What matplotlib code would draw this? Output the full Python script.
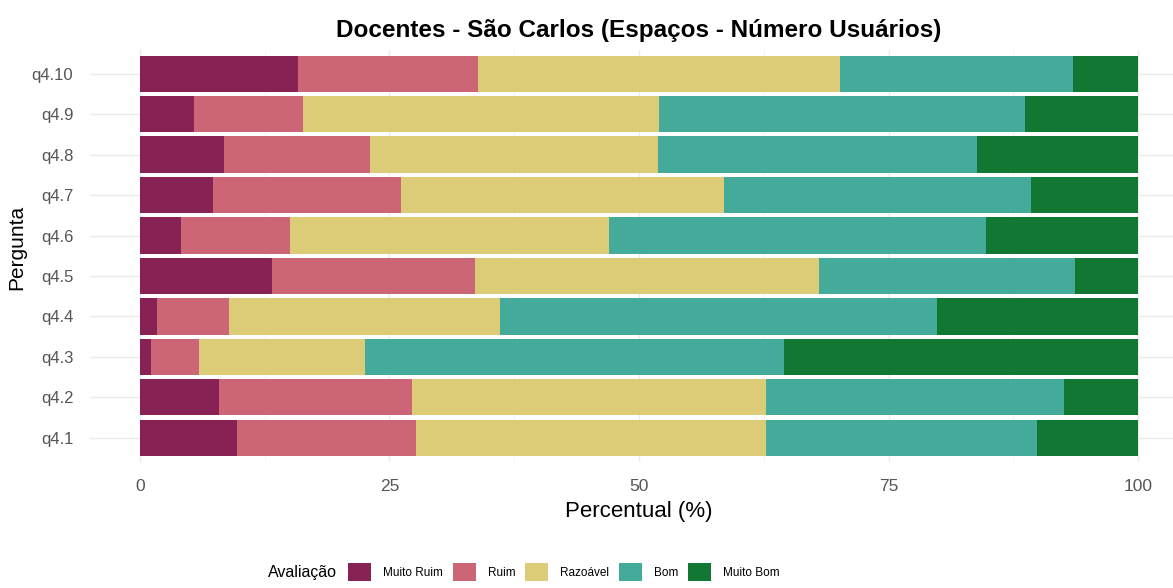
import matplotlib
matplotlib.use('Agg')
import matplotlib.pyplot as plt
from matplotlib.patches import Patch
import numpy as np

plt.rcParams['font.family'] = ['Liberation Sans', 'DejaVu Sans']

perguntas = ['q4.1', 'q4.2', 'q4.3', 'q4.4', 'q4.5', 'q4.6', 'q4.7', 'q4.8', 'q4.9', 'q4.10']
avaliacoes = ['Muito Ruim', 'Ruim', 'Razoável', 'Bom', 'Muito Bom']
cores = ['#882255', '#CC6677', '#DDCC77', '#44AA99', '#117733']

# percentuais por avaliacao (q4.1 ... q4.10)
muito_ruim = [9.7, 7.9, 1.1, 1.7, 13.2, 4.1, 7.3, 8.4, 5.4, 15.8]
ruim = [18.0, 19.4, 4.8, 7.2, 20.4, 10.9, 18.9, 14.7, 10.9, 18.1]
razoavel = [35.0, 35.4, 16.6, 27.2, 34.4, 32.0, 32.3, 28.8, 35.7, 36.2]
bom = [27.2, 29.9, 42.0, 43.8, 25.7, 37.8, 30.8, 32.0, 36.7, 23.4]
muito_bom = [10.1, 7.4, 35.5, 20.1, 6.3, 15.2, 10.7, 16.1, 11.3, 6.5]

series = [muito_ruim, ruim, razoavel, bom, muito_bom]

fig = plt.figure(figsize=(11.73, 5.88), dpi=100)
ax = fig.add_axes([90 / 1173, 126 / 588, 1098 / 1173, 412.5 / 588])

y = np.arange(1, len(perguntas) + 1)
left = np.zeros(len(perguntas))
for vals, cor in zip(series, cores):
    ax.barh(y, vals, left=left, height=0.9, color=cor, zorder=3)
    left += np.array(vals)

ax.set_xlim(-5, 105)
ax.set_ylim(0.4, len(perguntas) + 0.6)
ax.set_yticks(y)
ax.set_yticklabels(perguntas)
ax.set_xticks([0, 25, 50, 75, 100])
ax.set_xticks([12.5, 37.5, 62.5, 87.5], minor=True)
ax.grid(which='major', color='#EBEBEB', linewidth=1.0, zorder=0)
ax.grid(which='minor', axis='x', color='#F3F3F3', linewidth=0.6, zorder=0)
ax.tick_params(which='both', length=0)
ax.tick_params(axis='y', labelsize=12, labelcolor='#555555', pad=12)
ax.tick_params(axis='x', labelsize=12.5, labelcolor='#555555', pad=12)
for s in ax.spines.values():
    s.set_visible(False)

ax.set_xlabel('Percentual (%)', fontsize=16, labelpad=5)
ax.set_ylabel('Pergunta', fontsize=15, labelpad=1)
ax.yaxis.set_label_coords(-0.058, 0.52)
fig.text(639 / 1173, 1 - 31 / 588, 'Docentes - São Carlos (Espaços - Número Usuários)',
         ha='center', va='center', fontsize=17.5, fontweight='bold')

handles = [Patch(facecolor=c, edgecolor='none') for c in cores]
fig.legend(handles, avaliacoes, loc='center left', bbox_to_anchor=(348 / 1173, 1 - 572 / 588),
           ncol=5, frameon=False, fontsize=8.5, handlelength=1.95, handleheight=1.95,
           handletextpad=1.0, columnspacing=0.85, borderaxespad=0, borderpad=0)
fig.text(337 / 1173, 1 - 573 / 588, 'Avaliação', ha='right', va='center', fontsize=11.5)

fig.savefig('out.png', dpi=100)
